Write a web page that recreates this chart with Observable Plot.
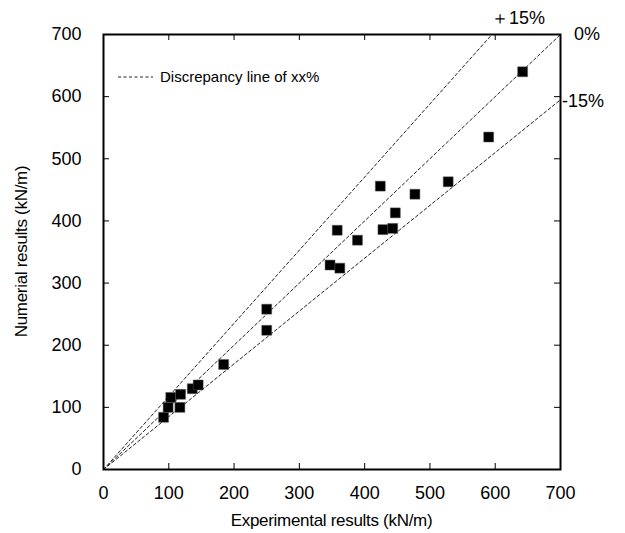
<!DOCTYPE html>
<html><head><meta charset="utf-8">
<script src="https://cdn.jsdelivr.net/npm/d3@7"></script>
<script src="https://cdn.jsdelivr.net/npm/@observablehq/plot@0.6"></script>
<style>
body{margin:0;background:#fff}
svg{font-family:"Liberation Sans",Arial,sans-serif}
</style>
</head><body><div id="chart"></div>
<script>
// Experimental (x) vs numerical (y) results, kN/m
const experimental = [92, 99, 103, 117, 118, 136, 145, 184, 250, 250, 347, 358, 362, 389, 424, 428, 443, 447, 477, 528, 590, 642];
const numerical    = [84, 100, 116, 100, 121, 130, 136, 169, 258, 224, 329, 385, 324, 369, 456, 386, 388, 413, 443, 463, 535, 640];
const xTicks = [0, 100, 200, 300, 400, 500, 600, 700];
const yTicks = [0, 100, 200, 300, 400, 500, 600, 700];
const lineLabels = ["＋15%", "0%", "-15%"];
const lineRatios = [1 / 0.85, 1, 0.85];
const xLabel = "Experimental results (kN/m)";
const yLabel = "Numerial results (kN/m)";
const legendLabel = "Discrepancy line of xx%";

const W = 625, H = 533, mL = 103, mR = 65, mT = 34, mB = 64;
const innerW = W - mL - mR, innerH = H - mT - mB;
const MAX = 700;

const pts = experimental.map((x, i) => ({x, y: numerical[i]}));
const lines = lineRatios.flatMap((r, k) => [
  {k, x: 0, y: 0},
  {k, x: Math.min(MAX, MAX / r), y: Math.min(MAX, MAX * r)}
]);

const chart = Plot.plot({
  width: W, height: H,
  marginLeft: mL, marginRight: mR, marginTop: mT, marginBottom: mB,
  x: {domain: [0, MAX]},
  y: {domain: [0, MAX]},
  style: {fontFamily: "'Liberation Sans', Arial, sans-serif", fontSize: "18px", color: "#000", background: "#fff"},
  marks: [
    Plot.line(lines, {x: "x", y: "y", z: "k", stroke: "#222", strokeWidth: 1, strokeDasharray: "3,2.5"}),
    Plot.dot(pts, {x: "x", y: "y", symbol: "square", r: 5.6, fill: "#000", stroke: "#555", strokeWidth: 0.5}),
    Plot.tickX(xTicks.slice(1, -1), {x: d => d, insetTop: innerH - 6, stroke: "#000"}),
    Plot.tickX(xTicks.slice(1, -1), {x: d => d, insetBottom: innerH - 6, stroke: "#000"}),
    Plot.tickY(yTicks.slice(1, -1), {y: d => d, insetRight: innerW - 6, stroke: "#000"}),
    Plot.tickY(yTicks.slice(1, -1), {y: d => d, insetLeft: innerW - 6, stroke: "#000"}),
    Plot.axisX({ticks: xTicks, tickSize: 0, tickPadding: 17, label: null, fontSize: 18}),
    Plot.axisY({ticks: yTicks, tickSize: 0, tickPadding: 22, label: null, fontSize: 18}),
    Plot.frame({stroke: "#000", strokeWidth: 2})
  ]
});

const svg = d3.select(chart);
// axis titles
svg.append("text").attr("x", mL + innerW / 2).attr("y", 526).attr("text-anchor", "middle")
  .attr("font-size", 17).attr("letter-spacing", -0.3).text(xLabel);
svg.append("text").attr("transform", `translate(27,${mT + innerH / 2}) rotate(-90)`).attr("text-anchor", "middle")
  .attr("font-size", 17).attr("letter-spacing", -0.3).text(yLabel);
// legend
svg.append("line").attr("x1", 118).attr("x2", 153).attr("y1", 77).attr("y2", 77)
  .attr("stroke", "#222").attr("stroke-width", 1).attr("stroke-dasharray", "3,2.5");
svg.append("text").attr("x", 160).attr("y", 82).attr("text-anchor", "start")
  .attr("font-size", 15).text(legendLabel);
// line labels
const labelPos = [[518, 24], [587, 40], [583, 107]];
lineLabels.forEach((t, i) => {
  svg.append("text").attr("x", labelPos[i][0]).attr("y", labelPos[i][1]).attr("text-anchor", "middle")
    .attr("font-size", 18).text(t);
});

document.getElementById("chart").appendChild(chart);
</script>
</body></html>
